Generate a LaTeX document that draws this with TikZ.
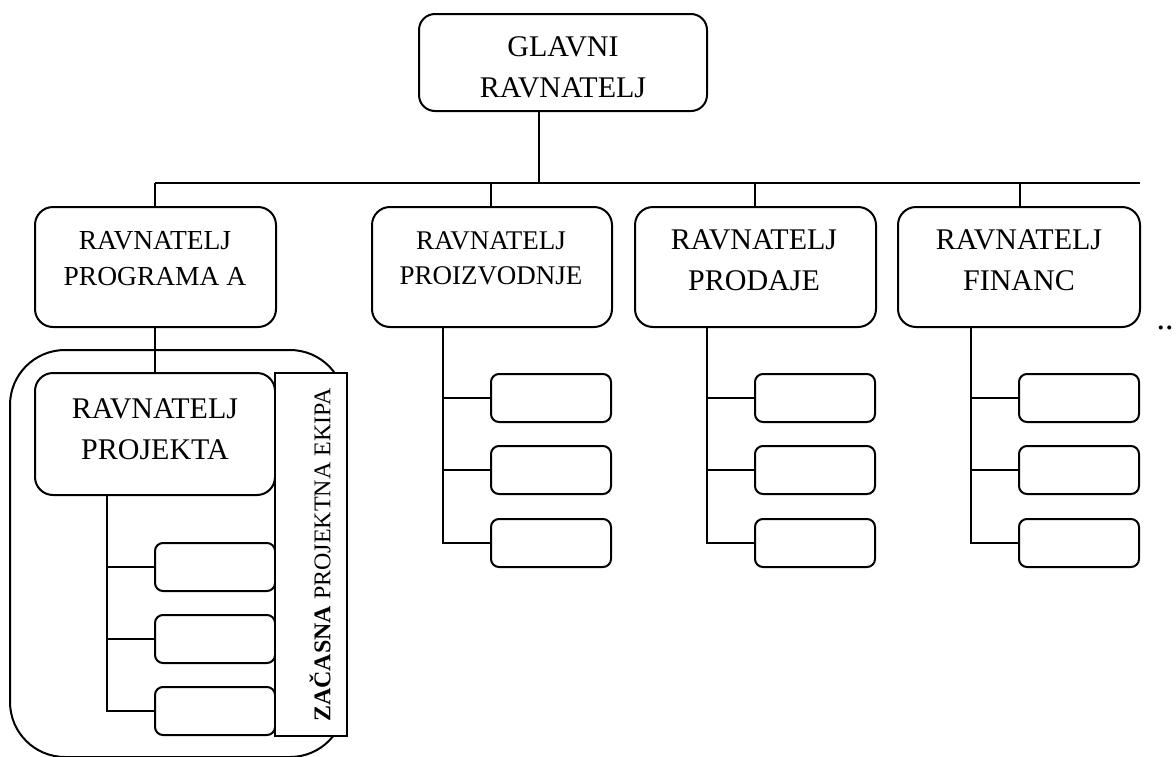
\documentclass[tikz,border=0pt]{standalone}
\usepackage{fontspec}
\setmainfont{Liberation Serif}
\begin{document}
\begin{tikzpicture}[x=1pt,y=-1pt,line width=2pt,
  mgrbox/.style={draw,rounded corners=18pt,inner sep=0pt,minimum height=120},
  topbox/.style={draw,rounded corners=16pt,inner sep=0pt,minimum width=288,minimum height=97},
  smallbox/.style={draw,rounded corners=8pt,inner sep=0pt,minimum width=120,minimum height=48},
  txt/.style={align=center,inner sep=0pt},
  big/.style={font=\fontsize{30}{41}\selectfont},
  teambox/.style={draw,rounded corners=55pt,inner sep=0pt,minimum width=335,minimum height=407},
  tagbox/.style={draw,fill=white,rotate=90,inner sep=0pt,minimum width=363,minimum height=72},
  tagtext/.style={rotate=90,inner sep=0pt,font=\fontsize{24}{28}\selectfont}]
\useasboundingbox (0,0) rectangle (1176,756);

% temporary project team frame
\node[teambox] (team) at (177.5,553.5) {};

% head of the organisation
\node[topbox] (gr) at (563,62.5) {};
\node[txt,big] (grT) at (563,67) {GLAVNI\\RAVNATELJ};

% bus line
\coordinate (busL) at (155,183);
\coordinate (busR) at (1140,183);
\coordinate (grDrop) at (539,183);
\draw (busL) -- (busR);
\draw (gr.south -| grDrop) -- (grDrop);

% second level managers
\node[mgrbox,minimum width=241] (pa) at (155.5,267) {};
\node[txt,font=\fontsize{27.5}{36}\selectfont] (paT) at (155,259) {RAVNATELJ\\PROGRAMA A};
\node[mgrbox,minimum width=240] (pz) at (492,267) {};
\node[txt,font=\fontsize{27}{35}\selectfont] (pzT) at (491,258) {RAVNATELJ\\PROIZVODNJE};
\node[mgrbox,minimum width=241] (pr) at (755.5,267) {};
\node[txt,big] (prT) at (754,260) {RAVNATELJ\\PRODAJE};
\node[mgrbox,minimum width=242] (fi) at (1019,267) {};
\node[txt,big] (fiT) at (1019,260) {RAVNATELJ\\FINANC};

\foreach \n/\dx in {pa/155,pz/491,pr/755,fi/1020} {
  \coordinate (d\n) at (\dx,183);
  \draw (d\n) -- (d\n |- \n.north);
}

% departments under each line manager
\foreach \n/\vx/\sx in {pz/443/551, pr/707/815, fi/971/1079} {
  \node[smallbox] (\n1) at (\sx,398) {};
  \node[smallbox] (\n2) at (\sx,470) {};
  \node[smallbox] (\n3) at (\sx,543) {};
  \coordinate (\n V) at (\vx,327);
  \draw (\n V) |- (\n3.west);
  \draw (\n1.west) -- (\n1.west -| \n V);
  \draw (\n2.west) -- (\n2.west -| \n V);
}

% project manager and team members
\node[mgrbox,minimum width=240,minimum height=122] (pm) at (155,434) {};
\node[txt,big] (pmT) at (155,429) {RAVNATELJ\\PROJEKTA};
\draw (pa.south -| pm.north) -- (pm.north);
\node[smallbox] (pm1) at (215,567) {};
\node[smallbox] (pm2) at (215,639) {};
\node[smallbox] (pm3) at (215,711) {};
\coordinate (pmV) at (107,495);
\draw (pmV) |- (pm3.west);
\draw (pm1.west) -- (pm1.west -| pmV);
\draw (pm2.west) -- (pm2.west -| pmV);

% team label
\node[tagbox] (tag) at (311,554.5) {};
\node[tagtext] (tagT) at (320,555) {\textbf{ZAČASNA} PROJEKTNA EKIPA};

% continuation mark
\node[font=\fontsize{34}{40}\selectfont,anchor=base,inner sep=0pt] (more) at (1165,329) {..};
\end{tikzpicture}
\end{document}
